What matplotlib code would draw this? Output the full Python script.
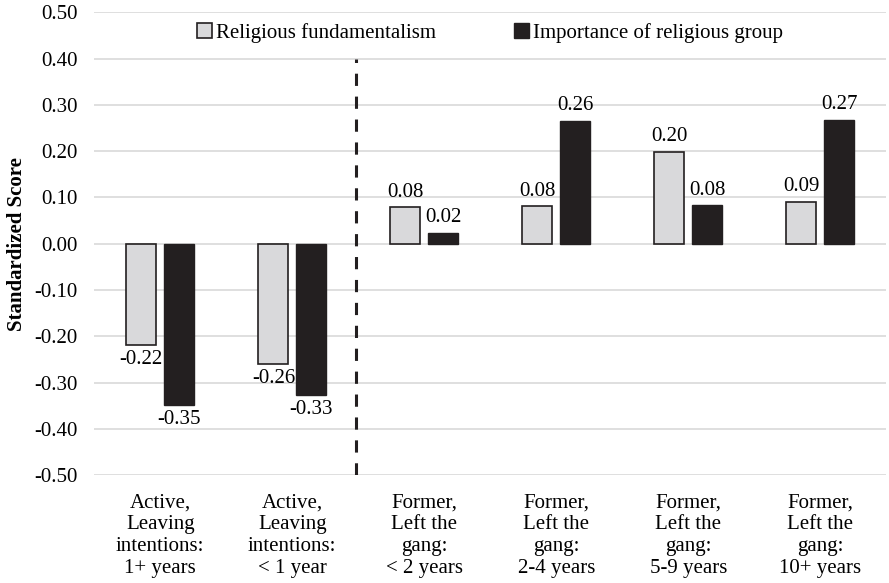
import numpy as np
import matplotlib
matplotlib.use('Agg')
import matplotlib.pyplot as plt

# data
groups = ['Active,\nLeaving\nintentions:\n1+ years',
          'Active,\nLeaving\nintentions:\n< 1 year',
          'Former,\nLeft the\ngang:\n< 2 years',
          'Former,\nLeft the\ngang:\n2-4 years',
          'Former,\nLeft the\ngang:\n5-9 years',
          'Former,\nLeft the\ngang:\n10+ years']
fundamentalism = [-0.218, -0.259, 0.079, 0.081, 0.198, 0.091]
importance = [-0.348, -0.326, 0.023, 0.265, 0.083, 0.268]
fund_labels = ['-0.22', '-0.26', '0.08', '0.08', '0.20', '0.09']
imp_labels = ['-0.35', '-0.33', '0.02', '0.26', '0.08', '0.27']
yticks = [-0.5, -0.4, -0.3, -0.2, -0.1, 0.0, 0.1, 0.2, 0.3, 0.4, 0.5]

plt.rcParams['font.family'] = ['Liberation Serif', 'DejaVu Serif']
plt.rcParams['font.size'] = 15

fig = plt.figure(figsize=(8.89, 5.83), dpi=100)
ax = fig.add_axes([0.106, 0.185, 0.891, 0.794])

x = np.arange(len(groups))
w = 0.228
b1 = ax.bar(x - 0.143, fundamentalism, w, color='#d9d9db', edgecolor='#231f20',
            linewidth=1.2, label='Religious fundamentalism', zorder=3)
b2 = ax.bar(x + 0.143, importance, w, color='#231f20', edgecolor='#231f20',
            linewidth=1, label='Importance of religious group', zorder=3)
ax.bar_label(b1, labels=fund_labels, padding=4, fontsize=15)
ax.bar_label(b2, labels=imp_labels, padding=4, fontsize=15)

ax.set_xlim(-0.5, len(groups) - 0.5)
ax.set_ylim(-0.5, 0.5)
ax.set_yticks(yticks)
ax.set_yticklabels(['%.2f' % v for v in yticks])
ax.set_xticks(x)
ax.set_xticklabels(groups, linespacing=1.2)
ax.tick_params(length=0, labelsize=15)
ax.tick_params(axis='y', pad=12)
ax.tick_params(axis='x', pad=13)
ax.grid(axis='y', color='#d9d9d9', linewidth=1.2, zorder=0)
ax.set_axisbelow(True)
for s in ax.spines.values():
    s.set_visible(False)

ax.set_ylabel('Standardized Score', fontweight='bold', fontsize=15)
ax.yaxis.set_label_coords(-0.085, 0.5)

# divider between active and former members
ax.plot([1.48, 1.48], [-0.5, 0.4], color='#231f20', linestyle=(0, (4, 3.5)),
        linewidth=2.2, zorder=4)

ax.legend(loc='upper center', bbox_to_anchor=(0.5, 1.017), ncol=2, frameon=False,
          handlelength=0.7, handleheight=0.7, handletextpad=0.2,
          columnspacing=3.75, fontsize=15)

fig.savefig('out.png', dpi=100)
